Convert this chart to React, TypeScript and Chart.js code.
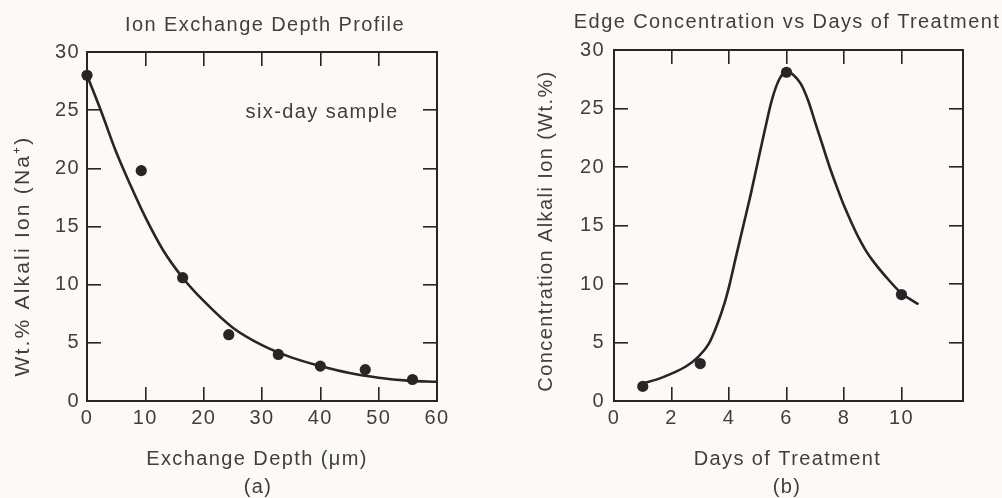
import React, { useEffect, useRef } from 'react';
import { Chart, registerables } from 'chart.js';

Chart.register(...registerables);

// ---------- data ----------
// (a) Ion exchange depth profile
const depthTicks = [0, 10, 20, 30, 40, 50, 60];
const wtTicks = [0, 5, 10, 15, 20, 25, 30];
const depthUm = [0, 9.3, 16.4, 24.3, 32.8, 40.0, 47.7, 55.8];
const depthWt = [28.0, 19.8, 10.6, 5.7, 4.0, 3.0, 2.7, 1.85];
const depthFitX = [0, 2.5, 5, 7.5, 10, 13, 16.4, 20, 25, 30, 35, 40, 45, 50, 55, 60];
const depthFitY = [28, 24.8, 21.4, 18.5, 15.8, 13.0, 10.6, 8.6, 6.3, 4.8, 3.75, 3.0, 2.4, 2.0, 1.75, 1.65];

// (b) Edge concentration vs days of treatment
const dayTicks = [0, 2, 4, 6, 8, 10];
const days = [1, 3, 6, 10];
const dayWt = [1.25, 3.2, 28.1, 9.1];
const dayFitX = [1.06, 1.5, 2.0, 2.5, 2.94, 3.3, 3.6, 3.85, 4.0, 4.25, 4.5, 4.75, 5.0, 5.25, 5.5, 5.75, 6.0,
  6.25, 6.5, 6.75, 7.0, 7.25, 7.5, 7.75, 8.0, 8.25, 8.5, 8.75, 9.0, 9.5, 10.0, 10.3, 10.59];
const dayFitY = [1.54, 1.85, 2.34, 2.95, 3.8, 4.9, 6.6, 8.4, 9.75, 12.4, 15.0, 17.6, 20.4, 23.2, 25.8, 27.5, 28.15,
  27.85, 27.1, 25.7, 23.8, 21.9, 20.0, 18.3, 16.7, 15.3, 14.0, 12.9, 12.0, 10.5, 9.2, 8.7, 8.27];

const titleA = 'Ion Exchange Depth Profile';
const titleB = 'Edge Concentration vs Days of Treatment';
const yTitleA = 'Wt.% Alkali Ion (Na\u207A)';
const yTitleB = 'Concentration Alkali Ion (Wt.%)';
const xTitleA = ['Exchange Depth (\u03BCm)', '(a)'];
const xTitleB = ['Days of Treatment', '(b)'];
const noteA = 'six-day sample';
const noteAt = { x: 40.3, y: 24.8 };

// ---------- styles ----------
const BG = '#fbfaf6';
const INK = '#2b2325';
const TEXT = '#423e3e';
const FONT = "'Liberation Sans', Arial, Helvetica, sans-serif";
const FS = 20;
const LS = '1.4px';

const pts = (xs: number[], ys: number[]) => xs.map((x, i) => ({ x, y: ys[i] }));

function scale(
  pos: 'left' | 'right' | 'top' | 'bottom',
  min: number,
  max: number,
  tickVals: number[],
  labels: boolean,
  size: number,
  padding = 21
) {
  return {
    type: 'linear',
    position: pos,
    min,
    max,
    afterBuildTicks: (s: any) => {
      s.ticks = tickVals.map((v) => ({ value: v }));
    },
    afterFit: (s: any) => {
      if (pos === 'left' || pos === 'right') s.width = size;
      else s.height = size;
    },
    grid: {
      display: true,
      drawOnChartArea: false,
      drawTicks: true,
      tickLength: -14,
      color: INK,
      lineWidth: 1.6,
    },
    border: { display: true, color: INK, width: 2 },
    ticks: {
      display: labels,
      padding,
      color: TEXT,
      font: { family: FONT, size: FS },
      maxRotation: 0,
      autoSkip: false,
    },
    title: { display: false },
  };
}

type TextItem = {
  text: string;
  x: number;
  y: number;
  data?: boolean;
  rotate?: boolean;
  size?: number;
  spacing?: string;
};

function textPlugin(items: TextItem[]) {
  return {
    id: 'texts',
    beforeUpdate(chart: any) {
      chart.ctx.letterSpacing = LS;
    },
    beforeDraw(chart: any) {
      chart.ctx.letterSpacing = LS;
    },
    afterDraw(chart: any) {
      const ctx = chart.ctx;
      for (const it of items) {
        ctx.save();
        ctx.letterSpacing = it.spacing ?? LS;
        ctx.fillStyle = TEXT;
        ctx.font = `${it.size ?? FS}px ${FONT}`;
        ctx.textAlign = 'center';
        ctx.textBaseline = 'middle';
        let x = it.x;
        let y = it.y;
        if (it.data) {
          x = chart.scales.x.getPixelForValue(it.x);
          y = chart.scales.y.getPixelForValue(it.y);
        }
        ctx.translate(x, y);
        if (it.rotate) ctx.rotate(-Math.PI / 2);
        ctx.fillText(it.text, 0, 0);
        ctx.restore();
      }
    },
  };
}

function datasets(fx: number[], fy: number[], px: number[], py: number[]) {
  return [
    {
      type: 'line',
      data: pts(fx, fy),
      showLine: true,
      borderColor: INK,
      borderWidth: 2.6,
      pointRadius: 0,
      cubicInterpolationMode: 'monotone',
      fill: false,
      clip: 4,
      order: 2,
    },
    {
      type: 'scatter',
      data: pts(px, py),
      pointRadius: 5.6,
      pointBackgroundColor: INK,
      pointBorderWidth: 0,
      showLine: false,
      clip: false,
      order: 1,
    },
  ];
}

function configA(): any {
  return {
    type: 'scatter',
    data: { datasets: datasets(depthFitX, depthFitY, depthUm, depthWt) },
    options: {
      responsive: false,
      animation: false,
      layout: { padding: { left: 0, top: 52, right: 63, bottom: 0 } },
      plugins: { legend: { display: false }, tooltip: { enabled: false }, title: { display: false } },
      scales: {
        x: scale('bottom', 0, 60, depthTicks, true, 97, 19),
        y: scale('left', 0, 30, wtTicks, true, 87, 21),
        x2: scale('top', 0, 60, depthTicks, false, 0),
        y2: scale('right', 0, 30, wtTicks, false, 0),
      },
    },
    plugins: [
      textPlugin([
        { text: titleA, x: 265, y: 25.5 },
        { text: noteA, x: noteAt.x, y: noteAt.y, data: true },
        { text: yTitleA, x: 23, y: 256, rotate: true, size: 21, spacing: '2.2px' },
        { text: xTitleA[0], x: 257, y: 459.5 },
        { text: xTitleA[1], x: 258, y: 487 },
      ]),
    ],
  };
}

function configB(): any {
  return {
    type: 'scatter',
    data: { datasets: datasets(dayFitX, dayFitY, days, dayWt) },
    options: {
      responsive: false,
      animation: false,
      layout: { padding: { left: 0, top: 50, right: 39, bottom: 0 } },
      plugins: { legend: { display: false }, tooltip: { enabled: false }, title: { display: false } },
      scales: {
        x: scale('bottom', 0, 12.14, dayTicks, true, 97, 19),
        y: scale('left', 0, 30, wtTicks, true, 114, 23),
        x2: scale('top', 0, 12.14, dayTicks, false, 0),
        y2: scale('right', 0, 30, wtTicks, false, 0),
      },
    },
    plugins: [
      textPlugin([
        { text: titleB, x: 287, y: 22.5 },
        { text: yTitleB, x: 46.5, y: 231, rotate: true },
        { text: xTitleB[0], x: 287.5, y: 459.5 },
        { text: xTitleB[1], x: 287, y: 487 },
      ]),
    ],
  };
}

export default function App() {
  const leftRef = useRef<HTMLCanvasElement>(null);
  const rightRef = useRef<HTMLCanvasElement>(null);

  useEffect(() => {
    const a = new Chart(leftRef.current as HTMLCanvasElement, configA());
    const b = new Chart(rightRef.current as HTMLCanvasElement, configB());
    return () => {
      a.destroy();
      b.destroy();
    };
  }, []);

  return (
    <div
      style={{
        position: 'absolute',
        left: 0,
        top: 0,
        width: 1002,
        height: 498,
        background: BG,
        overflow: 'hidden',
      }}
    >
      <canvas
        ref={leftRef}
        width={500}
        height={498}
        style={{ position: 'absolute', left: 0, top: 0, width: 500, height: 498 }}
      />
      <canvas
        ref={rightRef}
        width={502}
        height={498}
        style={{ position: 'absolute', left: 500, top: 0, width: 502, height: 498 }}
      />
    </div>
  );
}
